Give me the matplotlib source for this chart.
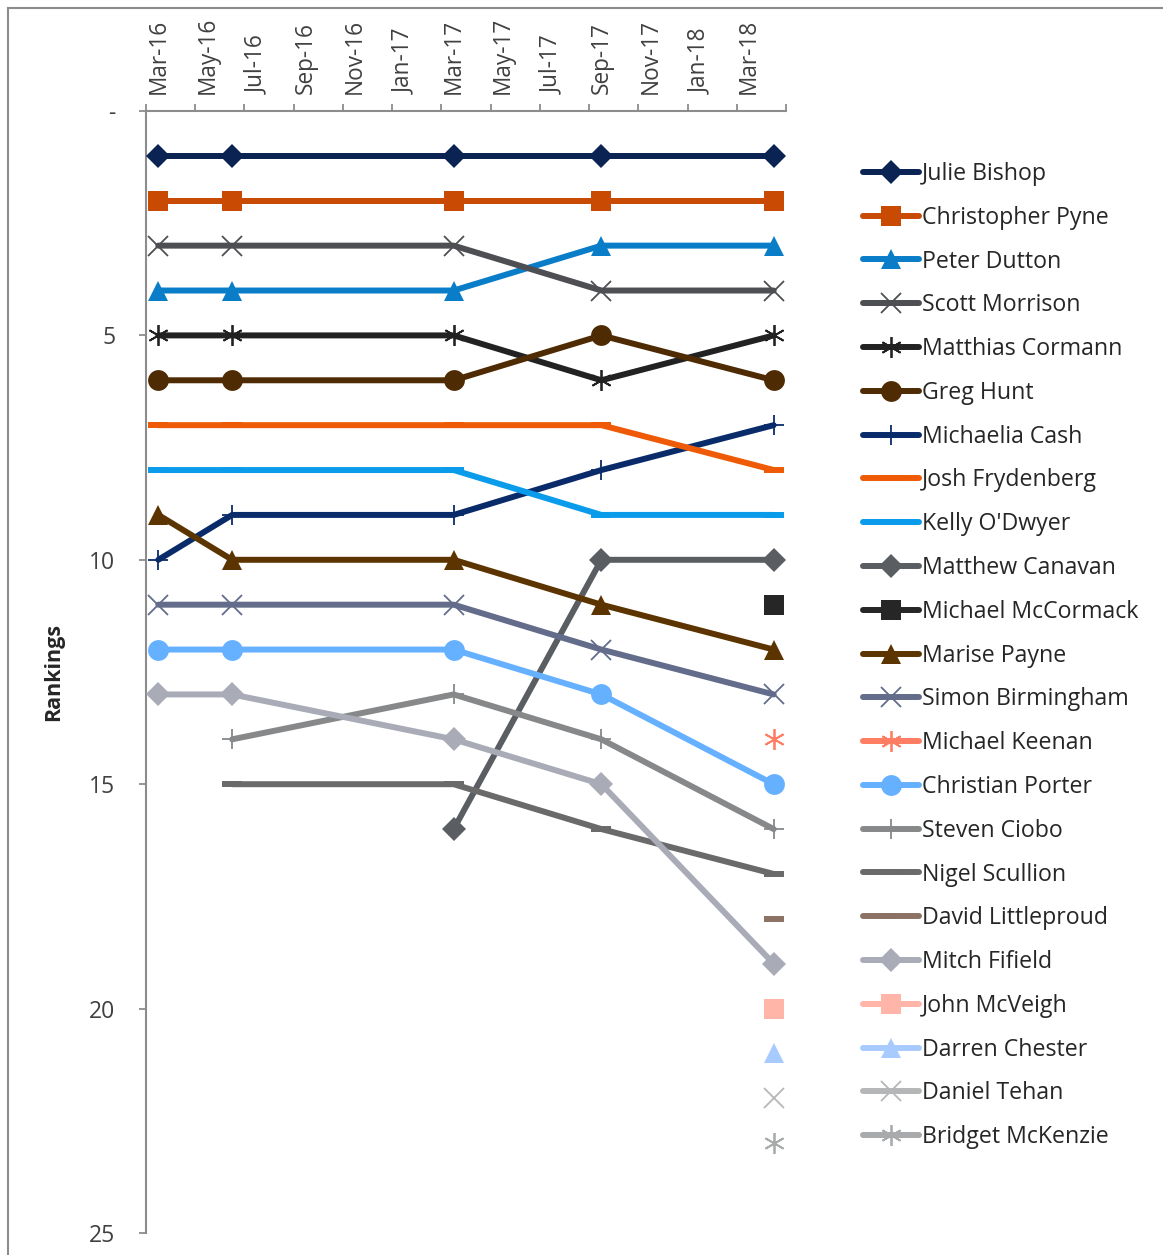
import matplotlib
matplotlib.use("Agg")
import matplotlib.pyplot as plt
import numpy as np
import pandas as pd

plt.rcParams['font.family'] = ['Open Sans', 'DejaVu Sans']

# ---------------- data ----------------
dates = ["2016-03", "2016-06", "2017-03", "2017-09", "2018-04"]
axis_start = "2016-03"
axis_months = 26
tick_labels = ["Mar-16", "May-16", "Jul-16", "Sep-16", "Nov-16", "Jan-17", "Mar-17",
               "May-17", "Jul-17", "Sep-17", "Nov-17", "Jan-18", "Mar-18"]

nan = np.nan
names = ["Julie Bishop", "Christopher Pyne", "Peter Dutton", "Scott Morrison",
         "Matthias Cormann", "Greg Hunt", "Michaelia Cash", "Josh Frydenberg",
         "Kelly O'Dwyer", "Matthew Canavan", "Michael McCormack", "Marise Payne",
         "Simon Birmingham", "Michael Keenan", "Christian Porter", "Steven Ciobo",
         "Nigel Scullion", "David Littleproud", "Mitch Fifield", "John McVeigh",
         "Darren Chester", "Daniel Tehan", "Bridget McKenzie"]

julie_bishop = [1, 1, 1, 1, 1]
christopher_pyne = [2, 2, 2, 2, 2]
peter_dutton = [4, 4, 4, 3, 3]
scott_morrison = [3, 3, 3, 4, 4]
matthias_cormann = [5, 5, 5, 6, 5]
greg_hunt = [6, 6, 6, 5, 6]
michaelia_cash = [10, 9, 9, 8, 7]
josh_frydenberg = [7, 7, 7, 7, 8]
kelly_odwyer = [8, 8, 8, 9, 9]
matthew_canavan = [nan, nan, 16, 10, 10]
michael_mccormack = [nan, nan, nan, nan, 11]
marise_payne = [9, 10, 10, 11, 12]
simon_birmingham = [11, 11, 11, 12, 13]
michael_keenan = [nan, nan, nan, nan, 14]
christian_porter = [12, 12, 12, 13, 15]
steven_ciobo = [nan, 14, 13, 14, 16]
nigel_scullion = [nan, 15, 15, 16, 17]
david_littleproud = [nan, nan, nan, nan, 18]
mitch_fifield = [13, 13, 14, 15, 19]
john_mcveigh = [nan, nan, nan, nan, 20]
darren_chester = [nan, nan, nan, nan, 21]
daniel_tehan = [nan, nan, nan, nan, 22]
bridget_mckenzie = [nan, nan, nan, nan, 23]

values = [julie_bishop, christopher_pyne, peter_dutton, scott_morrison,
          matthias_cormann, greg_hunt, michaelia_cash, josh_frydenberg,
          kelly_odwyer, matthew_canavan, michael_mccormack, marise_payne,
          simon_birmingham, michael_keenan, christian_porter, steven_ciobo,
          nigel_scullion, david_littleproud, mitch_fifield, john_mcveigh,
          darren_chester, daniel_tehan, bridget_mckenzie]

colors = ["#0B2352", "#C84A03", "#0A7DC8", "#4E4F53", "#222222", "#4F2B04",
          "#0A2B6A", "#EE5A05", "#0A9BEB", "#5A5D62", "#262626", "#5C3400",
          "#636C8A", "#FF7D62", "#66B1FF", "#878889", "#6A6A6A", "#8B7264",
          "#A9ABB7", "#FFB5A8", "#A8CBFF", "#B5B6B8", "#A9AAAC"]

# Excel automatic marker cycle
marker_cycle = ["D", "s", "^", "x", (6, 2, 0), "o", "+", "_", "_"]

# ---------------- figure ----------------
W, H = 1163, 1255
fig = plt.figure(figsize=(W / 100, H / 100), dpi=100)
ax = fig.add_axes([146 / W, 1 - 1233 / H, (786 - 146) / W, (1233 - 111) / H])

start = pd.Period(axis_start, freq="M")
xs = np.array([(pd.Period(d, freq="M") - start).n + 0.5 for d in dates])

for i, (name, vals, col) in enumerate(zip(names, values, colors)):
    mk = marker_cycle[i % len(marker_cycle)]
    kw = dict(color=col, lw=4.3, solid_capstyle="round", solid_joinstyle="round",
              marker=mk, label=name, clip_on=False, zorder=3 + i)
    if mk == "_":
        kw.update(markersize=14, markeredgewidth=4.3, markeredgecolor=col)
    elif mk == "x":
        kw.update(markersize=14, markeredgewidth=1.3, markeredgecolor=col)
    elif mk == (6, 2, 0):
        kw.update(markersize=15, markeredgewidth=1.3, markeredgecolor=col)
    elif mk == "+":
        kw.update(markersize=15, markeredgewidth=1.3, markeredgecolor=col)
    elif mk == "D":
        kw.update(markersize=12.5, markeredgewidth=0, markerfacecolor=col)
    elif mk == "o":
        kw.update(markersize=15, markeredgewidth=0, markerfacecolor=col)
    else:
        kw.update(markersize=14, markeredgewidth=0, markerfacecolor=col)
    ax.plot(xs, vals, **kw)

ax.set_xlim(0, axis_months)
ax.set_ylim(25, 0)

spine_col = "#8C8C8C"
for s in ["bottom", "right"]:
    ax.spines[s].set_visible(False)
for s in ["top", "left"]:
    ax.spines[s].set_color(spine_col)
    ax.spines[s].set_linewidth(1.5)

ax.xaxis.set_ticks_position("top")
ax.set_xticks(np.arange(0, axis_months + 1, 2))
ax.set_xticklabels([])
ax.set_xticks(np.arange(len(tick_labels)) * 2 + 0.5, minor=True)
ax.set_xticklabels(tick_labels, minor=True, rotation=90, fontsize=16.3, color="#404040")
ax.tick_params(axis="x", which="major", direction="out", length=5, width=1.3, color=spine_col)
ax.tick_params(axis="x", which="minor", length=0, pad=12, labeltop=True, labelbottom=False)

ax.set_yticks([0, 5, 10, 15, 20, 25])
ax.set_yticklabels(["-", "5", "10", "15", "20", "25"], fontsize=16.5, color="#404040")
ax.tick_params(axis="y", direction="out", length=5, width=1.3, color=spine_col, pad=17)
ax.set_ylabel("Rankings", fontsize=15.5, fontweight="bold", color="#262626", labelpad=18)

leg = fig.legend(loc="upper left", bbox_to_anchor=(863 / W, 1 - 162 / H),
                 frameon=False, fontsize=16.7, handlelength=2.42, handletextpad=0.13,
                 labelspacing=0.853, borderpad=0, borderaxespad=0, numpoints=1)
for t in leg.get_texts():
    t.set_color("#262626")

# outer chart border (top and left visible)
fig.add_artist(plt.Line2D([8 / W, 1], [1 - 8 / H, 1 - 8 / H], color="#8C8C8C", lw=1.5,
                          transform=fig.transFigure))
fig.add_artist(plt.Line2D([8 / W, 8 / W], [0, 1 - 8 / H], color="#8C8C8C", lw=1.5,
                          transform=fig.transFigure))

fig.savefig("out.png", dpi=100)
